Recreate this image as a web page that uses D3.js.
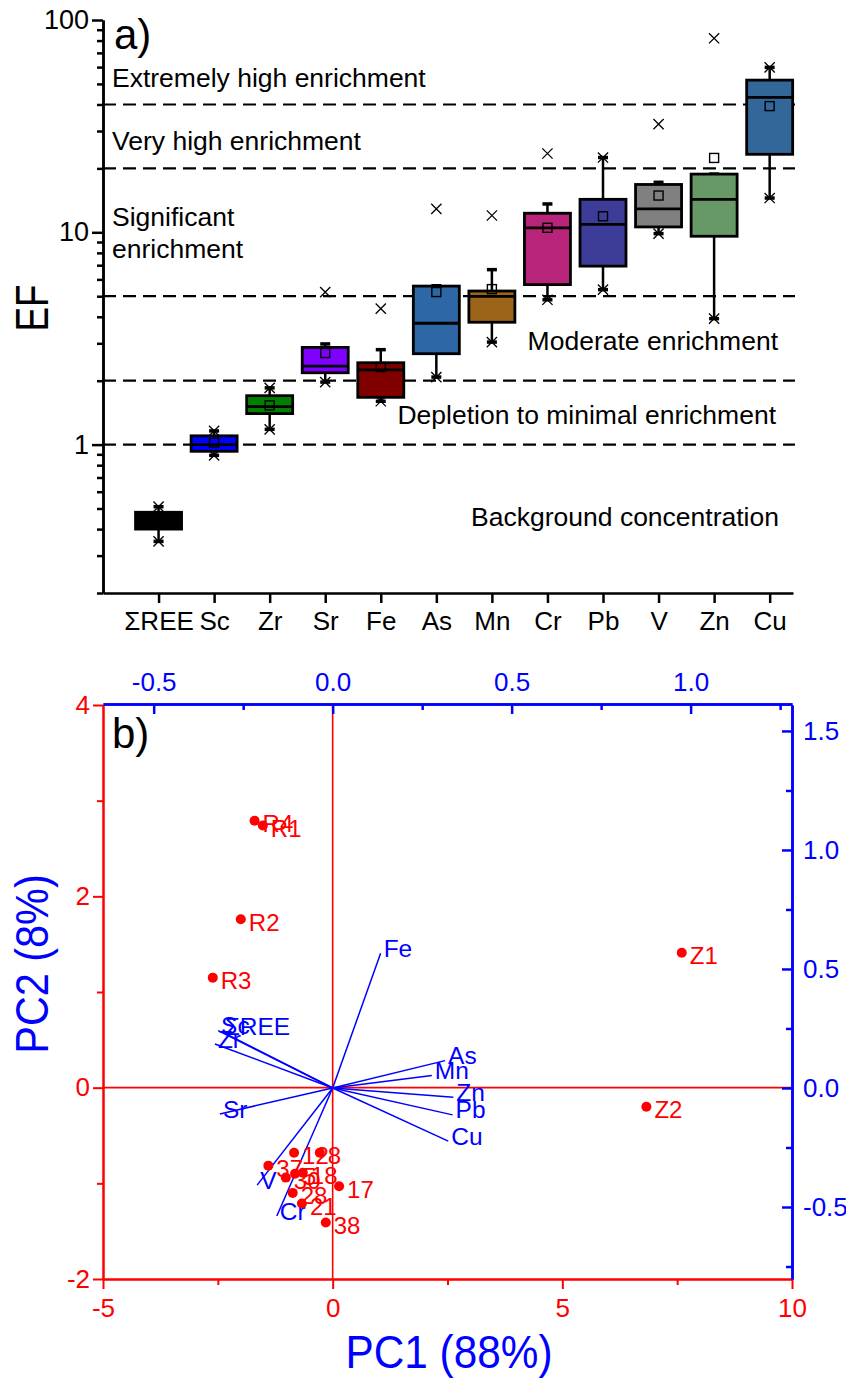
<!DOCTYPE html>
<html>
<head>
<meta charset="utf-8">
<script src="https://cdn.jsdelivr.net/npm/d3@7"></script>
<style>
body { margin: 0; background: #fff; }
</style>
</head>
<body>
<script>
// ---------- panel a: enrichment factor box plots
const elements = ['ΣREE', 'Sc', 'Zr', 'Sr', 'Fe', 'As', 'Mn', 'Cr', 'Pb', 'V', 'Zn', 'Cu'];
const q1     = [0.40, 0.93, 1.40, 2.18, 1.67, 2.68, 3.77, 5.67, 6.93, 10.6, 9.58, 23.3];
const median = [0.45, 1.00, 1.51, 2.34, 2.25, 3.73, 4.99, 10.5, 10.9, 12.9, 14.3, 43.2];
const q3     = [0.48, 1.10, 1.70, 2.87, 2.43, 5.58, 5.29, 12.3, 14.3, 16.8, 18.8, 52.1];
const mean   = [0.44, 1.02, 1.53, 2.70, 2.32, 5.23, 5.40, 10.5, 11.9, 14.9, 22.4, 39.3];
const whiskLo = [0.35, 0.89, 1.18, 1.97, 1.60, 2.08, 3.04, 4.81, 5.37, 9.86, 3.92, 14.5];
const whiskHi = [0.51, 1.16, 1.85, 2.98, 2.80, 5.60, 6.67, 13.6, 22.5, 17.2, 18.8, 59.8];
const minVal = [0.35, 0.89, 1.18, 1.97, 1.60, 2.08, 3.04, 4.81, 5.37, 9.86, 3.92, 14.5];
const maxVal = [0.51, 1.16, 1.85, 5.23, 4.37, 12.9, 12.0, 23.5, 22.5, 32.3, 82.0, 59.8];
const boxColors = ['#000000', '#0000ff', '#008000', '#8000ff', '#800000', '#2e67a6',
                   '#9b6419', '#b8247a', '#3d3d99', '#808080', '#669966', '#336699'];
const efLevels = [40, 20, 5, 2, 1];
const efMajor = [1, 10, 100];
const efMinor = [0.2, 0.3, 0.4, 0.5, 0.6, 0.7, 0.8, 0.9, 2, 3, 4, 5, 6, 7, 8, 9, 20, 30, 40, 50, 60, 70, 80, 90];
const zoneNames = ['Extremely high enrichment', 'Very high enrichment', 'Significant', 'enrichment',
                   'Moderate enrichment', 'Depletion to minimal enrichment', 'Background concentration'];

// ---------- panel b: PCA biplot
const sampleIds = ['R4', 'R1', 'R2', 'R3', 'Z1', 'Z2', '12', '8', '37', '30', '5', '18', '28', '21', '17', '38'];
const pc1 = [-1.70, -1.52, -2.00, -2.61, 7.60, 6.83, -0.84, -0.28, -1.40, -1.02, -0.82, -0.65, -0.87, -0.67, 0.14, -0.15];
const pc2 = [2.79, 2.74, 1.76, 1.15, 1.41, -0.20, -0.68, -0.68, -0.815, -0.94, -0.90, -0.89, -1.10, -1.21, -1.03, -1.41];
const varNames = ['Fe', 'As', 'Mn', 'Zn', 'Pb', 'Cu', 'Sc', 'ΣREE', 'Zr', 'Sr', 'V', 'Cr'];
const load1 = [0.134, 0.314, 0.277, 0.337, 0.335, 0.323, -0.320, -0.310, -0.329, -0.315, -0.211, -0.156];
const load2 = [0.566, 0.115, 0.052, -0.039, -0.113, -0.223, 0.241, 0.237, 0.185, -0.109, -0.408, -0.538];
const scoreXTicks = [-5, 0, 5, 10];
const scoreXMinor = [-2.5, 2.5, 7.5];
const scoreYTicks = [-2, 0, 2, 4];
const scoreYMinor = [-1, 1, 3];
const loadXTicks = [-0.5, 0, 0.5, 1.0];
const loadXMinor = [-0.25, 0.25, 0.75, 1.25];
const loadYTicks = [-0.5, 0, 0.5, 1.0, 1.5];
const loadYMinor = [-0.75, -0.25, 0.25, 0.75, 1.25];

const font = '"Liberation Sans", Arial, Helvetica, sans-serif';
const RED = '#ff0000', BLUE = '#0000ff';

const svg = d3.select('body').append('svg')
	.attr('width', 846)
	.attr('height', 1379)
	.style('font-family', font);

function styleAxis(g, color, width, size) {
	g.select('.domain').attr('stroke', color).attr('stroke-width', width);
	g.selectAll('.tick line').attr('stroke', color).attr('stroke-width', width);
	g.selectAll('.tick text').attr('fill', color).attr('font-size', size).attr('font-family', font);
}

// ================= panel a =================
const ya = d3.scaleLog().domain([0.2, 100]).range([593, 20]);
const xa = d3.scaleLinear().domain([-1, 11.42]).range([103, 793]);

const gA = svg.append('g');

// category boundaries
gA.selectAll('line.level')
	.data(efLevels)
	.join('line')
	.attr('x1', 103).attr('x2', 795)
	.attr('y1', d => ya(d)).attr('y2', d => ya(d))
	.attr('stroke', '#000')
	.attr('stroke-width', 2.2)
	.attr('stroke-dasharray', '13,7');

gA.append('g')
	.attr('transform', 'translate(103,0)')
	.call(d3.axisLeft(ya).tickValues(efMinor).tickSize(6).tickSizeOuter(0).tickFormat(''))
	.call(g => styleAxis(g, '#000', 2.5, 26));
gA.append('g')
	.attr('transform', 'translate(103,0)')
	.call(d3.axisLeft(ya).tickValues(efMajor).tickSize(11).tickSizeOuter(0).tickPadding(3).tickFormat(d3.format('d')))
	.call(g => styleAxis(g, '#000', 2.5, 27));

gA.append('g')
	.attr('transform', 'translate(0,593)')
	.call(d3.axisBottom(xa).tickValues(d3.range(elements.length)).tickSize(10).tickSizeOuter(0).tickPadding(9)
		.tickFormat(i => elements[i]))
	.call(g => styleAxis(g, '#000', 2.5, 26));

gA.append('text')
	.attr('transform', 'translate(48,308) rotate(-90) scale(0.8,1)')
	.attr('text-anchor', 'middle')
	.attr('font-size', 46)
	.text('EF');

gA.append('text').attr('x', 114).attr('y', 49).attr('font-size', 42).text('a)');

// zone labels
const zonePos = [
	{x: 112, y: 87, a: 'start'},
	{x: 112, y: 150, a: 'start'},
	{x: 112, y: 226, a: 'start'},
	{x: 112, y: 258, a: 'start'},
	{x: 778, y: 350, a: 'end'},
	{x: 776, y: 424, a: 'end'},
	{x: 779, y: 526, a: 'end'}
];
gA.selectAll('text.zone')
	.data(zoneNames)
	.join('text')
	.attr('class', 'zone')
	.attr('x', (d, i) => zonePos[i].x)
	.attr('y', (d, i) => zonePos[i].y)
	.attr('text-anchor', (d, i) => zonePos[i].a)
	.attr('font-size', 26.5)
	.text(d => d);

// boxes
const bw = 46;
const box = gA.selectAll('g.box')
	.data(elements)
	.join('g')
	.attr('class', 'box')
	.attr('transform', (d, i) => 'translate(' + xa(i) + ',0)');

box.append('line')
	.attr('y1', (d, i) => ya(whiskLo[i])).attr('y2', (d, i) => ya(whiskHi[i]))
	.attr('stroke', '#000').attr('stroke-width', 2.5);
box.append('line')
	.attr('x1', -5).attr('x2', 5)
	.attr('y1', (d, i) => ya(whiskHi[i])).attr('y2', (d, i) => ya(whiskHi[i]))
	.attr('stroke', '#000').attr('stroke-width', 3.5);
box.append('line')
	.attr('x1', -5).attr('x2', 5)
	.attr('y1', (d, i) => ya(whiskLo[i])).attr('y2', (d, i) => ya(whiskLo[i]))
	.attr('stroke', '#000').attr('stroke-width', 3.5);
box.append('rect')
	.attr('x', -bw / 2).attr('width', bw)
	.attr('y', (d, i) => ya(q3[i]))
	.attr('height', (d, i) => ya(q1[i]) - ya(q3[i]))
	.attr('fill', (d, i) => boxColors[i])
	.attr('stroke', '#000').attr('stroke-width', 2.8);
box.append('line')
	.attr('x1', -bw / 2).attr('x2', bw / 2)
	.attr('y1', (d, i) => ya(median[i])).attr('y2', (d, i) => ya(median[i]))
	.attr('stroke', '#000').attr('stroke-width', 2.8);
box.append('rect')
	.attr('x', -4.5).attr('width', 9)
	.attr('y', (d, i) => ya(mean[i]) - 4.5).attr('height', 9)
	.attr('fill', 'none').attr('stroke', '#000').attr('stroke-width', 1.4);

const cross = d3.symbol().type(d3.symbolX).size(70);
box.append('path')
	.attr('d', cross)
	.attr('transform', (d, i) => 'translate(0,' + ya(maxVal[i]) + ')')
	.attr('fill', 'none').attr('stroke', '#000').attr('stroke-width', 1.3);
box.append('path')
	.attr('d', cross)
	.attr('transform', (d, i) => 'translate(0,' + ya(minVal[i]) + ')')
	.attr('fill', 'none').attr('stroke', '#000').attr('stroke-width', 1.3);

// ================= panel b =================
const xb = d3.scaleLinear().domain([-5, 10]).range([103, 792]);
const yb = d3.scaleLinear().domain([-2, 4]).range([1279, 705]);
const xl = d3.scaleLinear().domain([-0.6416, 1.2832]).range([103, 792]);
const yl = d3.scaleLinear().domain([-0.8025, 1.609]).range([1279, 705]);

const gB = svg.append('g');

// zero lines
gB.append('line')
	.attr('x1', 103).attr('x2', 792).attr('y1', yb(0)).attr('y2', yb(0))
	.attr('stroke', RED).attr('stroke-width', 1.6);
gB.append('line')
	.attr('x1', xb(0)).attr('x2', xb(0)).attr('y1', 705).attr('y2', 1279)
	.attr('stroke', RED).attr('stroke-width', 1.6);

// score axes (red, outward ticks)
gB.append('g')
	.attr('transform', 'translate(103,0)')
	.call(d3.axisLeft(yb).tickValues(scoreYMinor).tickSize(6).tickSizeOuter(0).tickFormat(''))
	.call(g => styleAxis(g, RED, 2, 26));
gB.append('g')
	.attr('transform', 'translate(103,0)')
	.call(d3.axisLeft(yb).tickValues(scoreYTicks).tickSize(10).tickSizeOuter(0).tickPadding(3).tickFormat(d => String(d)))
	.call(g => styleAxis(g, RED, 2, 26));
gB.append('g')
	.attr('transform', 'translate(0,1279)')
	.call(d3.axisBottom(xb).tickValues(scoreXMinor).tickSize(6).tickSizeOuter(0).tickFormat(''))
	.call(g => styleAxis(g, RED, 2, 26));
gB.append('g')
	.attr('transform', 'translate(0,1279)')
	.call(d3.axisBottom(xb).tickValues(scoreXTicks).tickSize(10).tickSizeOuter(0).tickPadding(10).tickFormat(d => String(d)))
	.call(g => styleAxis(g, RED, 2, 26));

// loading axes (blue, inward ticks)
gB.append('g')
	.attr('transform', 'translate(0,704)')
	.call(d3.axisTop(xl).tickValues(loadXMinor).tickSize(-6).tickSizeOuter(0).tickFormat(''))
	.call(g => styleAxis(g, BLUE, 2.5, 26));
gB.append('g')
	.attr('transform', 'translate(0,704)')
	.call(d3.axisTop(xl).tickValues(loadXTicks).tickSize(-10).tickSizeOuter(0).tickPadding(13).tickFormat(d => d.toFixed(1)))
	.call(g => styleAxis(g, BLUE, 2.5, 26));
gB.append('g')
	.attr('transform', 'translate(792,0)')
	.call(d3.axisRight(yl).tickValues(loadYMinor).tickSize(-6).tickSizeOuter(0).tickFormat(''))
	.call(g => styleAxis(g, BLUE, 2.5, 26));
gB.append('g')
	.attr('transform', 'translate(792,0)')
	.call(d3.axisRight(yl).tickValues(loadYTicks).tickSize(-10).tickSizeOuter(0).tickPadding(11).tickFormat(d => d.toFixed(1)))
	.call(g => styleAxis(g, BLUE, 2.5, 26));

// loading vectors
gB.selectAll('line.load')
	.data(varNames)
	.join('line')
	.attr('class', 'load')
	.attr('x1', xl(0)).attr('y1', yl(0))
	.attr('x2', (d, i) => xl(load1[i]))
	.attr('y2', (d, i) => yl(load2[i]))
	.attr('stroke', BLUE).attr('stroke-width', 1.5);
gB.selectAll('text.load')
	.data(varNames)
	.join('text')
	.attr('class', 'load')
	.attr('x', (d, i) => xl(load1[i]) + 3)
	.attr('y', (d, i) => yl(load2[i]) - 5)
	.attr('dy', '0.35em')
	.attr('fill', BLUE)
	.attr('font-size', 24.5)
	.text(d => d);

// sample scores
gB.selectAll('circle.score')
	.data(sampleIds)
	.join('circle')
	.attr('class', 'score')
	.attr('cx', (d, i) => xb(pc1[i]))
	.attr('cy', (d, i) => yb(pc2[i]))
	.attr('r', 5)
	.attr('fill', RED);
gB.selectAll('text.score')
	.data(sampleIds)
	.join('text')
	.attr('class', 'score')
	.attr('x', (d, i) => xb(pc1[i]) + 8)
	.attr('y', (d, i) => yb(pc2[i]) + 3)
	.attr('dy', '0.35em')
	.attr('fill', RED)
	.attr('font-size', 24)
	.text(d => d);

gB.append('text').attr('x', 112).attr('y', 748).attr('font-size', 42).text('b)');

gB.append('text')
	.attr('transform', 'translate(449,1368) scale(0.92,1)')
	.attr('text-anchor', 'middle')
	.attr('font-size', 46)
	.attr('fill', BLUE)
	.text('PC1 (88%)');
gB.append('text')
	.attr('transform', 'translate(48,964) rotate(-90) scale(0.9,1)')
	.attr('text-anchor', 'middle')
	.attr('font-size', 46)
	.attr('fill', BLUE)
	.text('PC2 (8%)');
</script>
</body>
</html>
